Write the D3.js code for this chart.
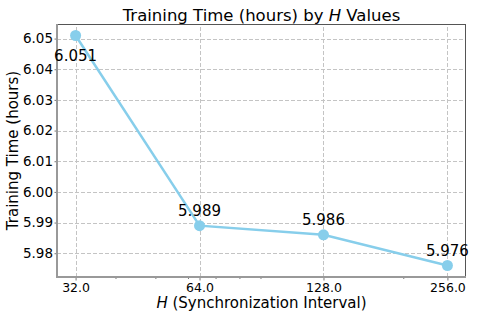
<!DOCTYPE html>
<html>
<head>
<meta charset="utf-8">
<script src="https://cdn.jsdelivr.net/npm/d3@7"></script>
<style>
  body { margin: 0; background: #fff; }
  svg { font-family: "DejaVu Sans", sans-serif; }
</style>
</head>
<body>
<script>
// values
let hValues = [32, 64, 128, 256];
let hours = [6.051, 5.989, 5.986, 5.976];
let yTicks = [5.98, 5.99, 6.00, 6.01, 6.02, 6.03, 6.04, 6.05];
let minorTicks = [40, 50, 60, 70, 80, 90, 200];

let width = 478, height = 319;
let margin = {left: 57, right: 12, top: 24, bottom: 42};

let svg = d3.select('body').append('svg')
    .attr('width', width)
    .attr('height', height);

// log2 axis with 5% padding like matplotlib
let lx = [Math.log2(d3.min(hValues)), Math.log2(d3.max(hValues))];
let padX = (lx[1] - lx[0]) * 0.05;
let x = d3.scaleLog().base(2)
    .domain([Math.pow(2, lx[0] - padX), Math.pow(2, lx[1] + padX)])
    .range([margin.left, width - margin.right]);

let ext = d3.extent(hours);
let padY = (ext[1] - ext[0]) * 0.05;
let y = d3.scaleLinear()
    .domain([ext[0] - padY, ext[1] + padY])
    .range([height - margin.bottom, margin.top]);

let x0 = margin.left, x1 = width - margin.right;
let y0 = height - margin.bottom, y1 = margin.top;

// grid
let grid = svg.append('g')
    .attr('stroke', '#c4c4c4')
    .attr('stroke-width', 1)
    .attr('stroke-dasharray', '4,2');
grid.selectAll('.gy').data(yTicks).enter().append('line')
    .attr('x1', x0).attr('x2', x1)
    .attr('y1', d => Math.round(y(d)) + 0.5)
    .attr('y2', d => Math.round(y(d)) + 0.5);
grid.selectAll('.gx').data(hValues).enter().append('line')
    .attr('y1', y0).attr('y2', y1)
    .attr('x1', d => Math.round(x(d)) + 0.5)
    .attr('x2', d => Math.round(x(d)) + 0.5);

// axes
let xAxis = svg.append('g')
    .attr('transform', 'translate(0,' + y0 + ')')
    .call(d3.axisBottom(x).tickValues(hValues).tickFormat(d3.format('.1f'))
        .tickSize(3.5).tickPadding(2.3).tickSizeOuter(0));
xAxis.select('.domain').remove();
xAxis.selectAll('.tick line').attr('stroke', '#777');
xAxis.selectAll('.tick text')
    .attr('font-size', '12.5px')
    .attr('fill', '#000')
    .attr('font-family', '"DejaVu Sans", sans-serif');

let xMinor = svg.append('g')
    .attr('transform', 'translate(0,' + y0 + ')')
    .call(d3.axisBottom(x).tickValues(minorTicks).tickFormat('').tickSize(2).tickSizeOuter(0));
xMinor.select('.domain').remove();
xMinor.selectAll('.tick line').attr('stroke', '#777');

let yAxis = svg.append('g')
    .attr('transform', 'translate(' + x0 + ',0)')
    .call(d3.axisLeft(y).tickValues(yTicks).tickFormat(d3.format('.2f'))
        .tickSize(2.5).tickPadding(1.5).tickSizeOuter(0));
yAxis.select('.domain').remove();
yAxis.selectAll('.tick line').attr('stroke', '#777');
yAxis.selectAll('.tick text')
    .attr('font-size', '13.5px')
    .attr('fill', '#000')
    .attr('font-family', '"DejaVu Sans", sans-serif');

// spines
svg.append('line').attr('x1', x0).attr('x2', x1).attr('y1', y1 + 0.5).attr('y2', y1 + 0.5)
    .attr('stroke', '#555').attr('stroke-width', 1);
svg.append('line').attr('x1', x1 - 0.5).attr('x2', x1 - 0.5).attr('y1', y1).attr('y2', y0)
    .attr('stroke', '#555').attr('stroke-width', 1);
svg.append('line').attr('x1', x0).attr('x2', x1).attr('y1', y0).attr('y2', y0)
    .attr('stroke', '#999').attr('stroke-width', 2);
svg.append('line').attr('x1', x0).attr('x2', x0).attr('y1', y1).attr('y2', y0 + 1)
    .attr('stroke', '#999').attr('stroke-width', 2);

// line and markers
let pts = hValues.map((h, i) => ({h: h, v: hours[i]}));
svg.append('path')
    .datum(pts)
    .attr('fill', 'none')
    .attr('stroke', '#87ceeb')
    .attr('stroke-width', 2.5)
    .attr('d', d3.line().x(d => x(d.h)).y(d => y(d.v)));

svg.selectAll('.dot').data(pts).enter().append('circle')
    .attr('cx', d => x(d.h))
    .attr('cy', d => y(d.v))
    .attr('r', 5.5)
    .attr('fill', '#87ceeb');

// value labels
svg.selectAll('.lbl').data(pts).enter().append('text')
    .attr('x', d => x(d.h))
    .attr('y', (d, i) => y(d.v) + (i === 0 ? 25 : -10))
    .attr('text-anchor', 'middle')
    .attr('font-size', '15px')
    .text(d => d.v.toFixed(3));

// title
let title = svg.append('text')
    .attr('x', (x0 + x1) / 2)
    .attr('y', 21)
    .attr('text-anchor', 'middle')
    .attr('font-size', '16.5px');
title.append('tspan').text('Training Time (hours) by ');
title.append('tspan').attr('font-style', 'italic').text('H');
title.append('tspan').text(' Values');

// x label
let xl = svg.append('text')
    .attr('x', (x0 + x1) / 2)
    .attr('y', 307.5)
    .attr('text-anchor', 'middle')
    .attr('font-size', '15px');
xl.append('tspan').attr('font-style', 'italic').text('H');
xl.append('tspan').text(' (Synchronization Interval)');

// y label
svg.append('text')
    .attr('transform', 'translate(18,' + ((y0 + y1) / 2) + ') rotate(-90)')
    .attr('text-anchor', 'middle')
    .attr('font-size', '15px')
    .text('Training Time (hours)');
</script>
</body>
</html>
